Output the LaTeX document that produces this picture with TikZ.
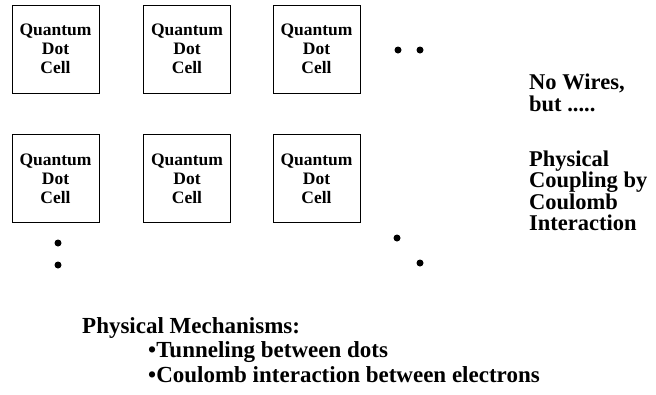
\documentclass[tikz,border=0pt]{standalone}
\usepackage{fontspec}
\setmainfont{Liberation Serif}
\usetikzlibrary{positioning}
\tikzset{
  qdcell/.style={draw, line width=1pt, minimum width=87pt, minimum height=88pt,
    align=center, inner sep=0pt,
    font=\fontsize{17.5}{19}\selectfont\bfseries},
  blob/.style={circle, fill=black, inner sep=0pt, minimum size=7pt},
  remark/.style={anchor=base west, align=left, inner sep=0pt,
    font=\fontsize{22.5}{21.5}\selectfont\bfseries}
}
\begin{document}
\begin{tikzpicture}[x=1pt, y=-1pt]
  \useasboundingbox (0,0) rectangle (656,394);
  % array of cells
  \node[qdcell] (c11) at (55.5,49) {Quantum\\Dot\\Cell};
  \node[qdcell] (c12) at (187,49) {Quantum\\Dot\\Cell};
  \node[qdcell] (c13) at (316.5,49) {Quantum\\Dot\\Cell};
  \node[qdcell] (c21) at (55.5,178.5) {Quantum\\Dot\\Cell};
  \node[qdcell] (c22) at (187,178.5) {Quantum\\Dot\\Cell};
  \node[qdcell] (c23) at (316.5,178.5) {Quantum\\Dot\\Cell};
  % continuation dots
  \node[blob] (r1) at (398,50) {};
  \node[blob] (r2) at (420,50) {};
  \node[blob] (v1) at (58,243) {};
  \node[blob] (v2) at (58,265) {};
  \node[blob] (g1) at (397,238) {};
  \node[blob] (g2) at (420,263) {};
  % remarks (base = last line)
  \node[remark] (nowire) at (529,111) {No Wires,\\but .....};
  \node[remark] (coupling) at (529,230.5) {Physical\\Coupling by\\Coulomb\\Interaction};
  \node[remark, font=\fontsize{23}{24.5}\selectfont\bfseries] (mech) at (82,382)
    {Physical Mechanisms:\\
     \hspace*{66pt}\textbullet Tunneling between dots\\
     \hspace*{66pt}\textbullet Coulomb interaction between electrons};
\end{tikzpicture}
\end{document}
